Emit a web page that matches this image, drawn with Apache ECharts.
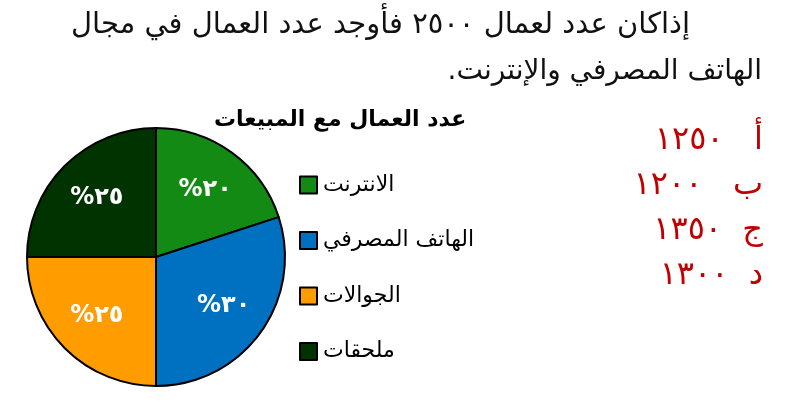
<!DOCTYPE html>
<html>
<head>
<meta charset="utf-8">
<script src="https://cdn.jsdelivr.net/npm/echarts@6/dist/echarts.min.js"></script>
<style>
  html, body { margin: 0; padding: 0; background: #fff; }
  #main { width: 796px; height: 420px; direction: rtl; }
</style>
</head>
<body>
<div id="main" dir="rtl"></div>
<script>
var questionLines = ['إذاكان عدد لعمال ٢٥٠٠ فأوجد عدد العمال في مجال', 'الهاتف المصرفي والإنترنت.'];
var chartTitle = 'عدد العمال مع المبيعات';
var categories = ['الانترنت', 'الهاتف المصرفي', 'الجوالات', 'ملحقات'];
var percents = [20, 30, 25, 25];
var colors = ['#138a13', '#0070c0', '#ff9d00', '#003300'];
var choiceLetters = ['أ', 'ب', 'ج', 'د'];
var choiceValues = ['١٢٥٠', '١٢٠٠', '١٣٥٠', '١٣٠٠'];
var choiceGaps = ['   ', '   ', '  ', '  '];

var arabicFont = 'DejaVu Sans';
var pieCenter = [156, 257];

function toArabicDigits(n) {
    return String(n).replace(/[0-9]/g, function(d) { return '٠١٢٣٤٥٦٧٨٩'[+d]; });
}

var myChart = echarts.init(document.getElementById('main'));

var graphics = [];
// نص السؤال
var questionRight = [106, 34];
var questionSize = [29, 28];
questionLines.forEach(function(line, i) {
    graphics.push({
        type: 'text',
        right: questionRight[i],
        top: 11 + i * 47,
        style: { text: line, font: questionSize[i] + 'px "' + arabicFont + '"', fill: '#111', textAlign: 'right' }
    });
});
// الخيارات
choiceLetters.forEach(function(letter, i) {
    graphics.push({
        type: 'text',
        right: 33,
        top: 125 + i * 45,
        style: { text: letter + choiceGaps[i] + choiceValues[i], font: '32px "' + arabicFont + '"', fill: '#c00000', textAlign: 'right' }
    });
});

var option = {
    animation: false,
    title: {
        text: chartTitle,
        left: 214,
        top: 109,
        padding: 0,
        textStyle: { fontFamily: arabicFont, fontSize: 22, fontWeight: 'bold', color: '#000' }
    },
    legend: {
        orient: 'vertical',
        left: 299,
        top: 174,
        padding: 0,
        itemWidth: 17,
        itemHeight: 17,
        itemGap: 33.5,
        icon: 'rect',
        data: categories,
        itemStyle: { borderColor: '#000', borderWidth: 2 },
        textStyle: { fontFamily: arabicFont, fontSize: 22, lineHeight: 22, color: '#000', padding: [0, 0, 0, 1] }
    },
    graphic: graphics,
    series: [{
        type: 'pie',
        center: pieCenter,
        radius: 129,
        startAngle: 90,
        clockwise: true,
        data: categories.map(function(c, i) {
            return { name: c, value: percents[i], itemStyle: { color: colors[i] } };
        }),
        itemStyle: { borderColor: '#000', borderWidth: 2 },
        label: {
            position: 'inside',
            formatter: function(p) { return toArabicDigits(p.value) + '%'; },
            fontFamily: arabicFont,
            fontSize: 24,
            fontWeight: 'bold',
            color: '#fff'
        },
        // دفع التسميات بعيدا عن المركز قليلا
        labelLayout: function(params) {
            var r = params.labelRect;
            var cx = r.x + r.width / 2, cy = r.y + r.height / 2;
            var k = 1.24;
            return {
                x: pieCenter[0] + (cx - pieCenter[0]) * k,
                y: pieCenter[1] + (cy - pieCenter[1]) * k
            };
        },
        labelLine: { show: false },
        emphasis: { disabled: true }
    }]
};

myChart.setOption(option);
</script>
</body>
</html>
